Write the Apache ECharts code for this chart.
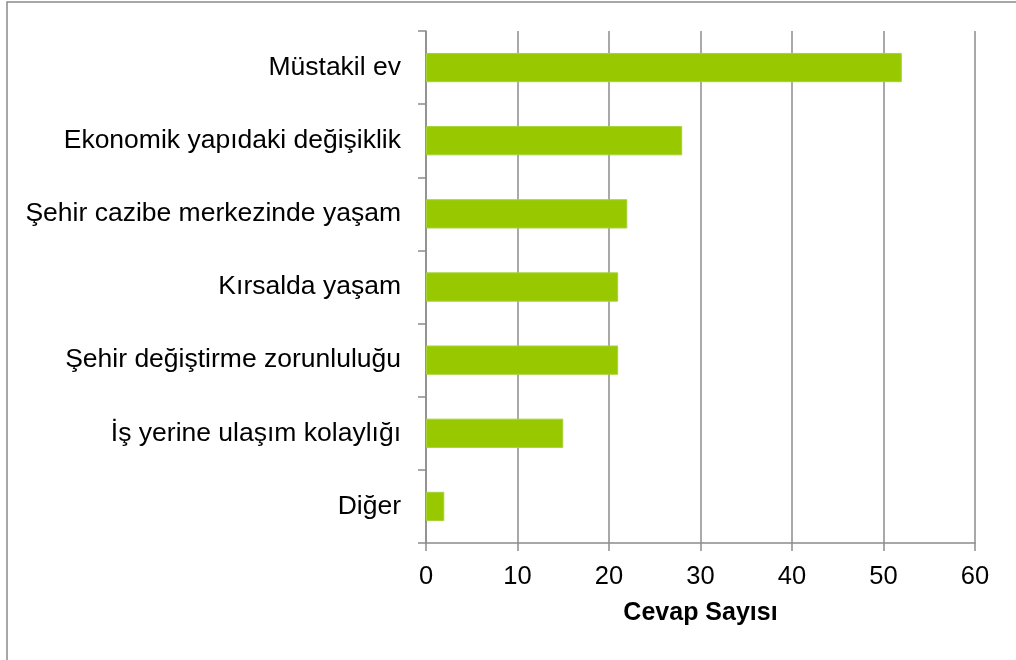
<!DOCTYPE html>
<html>
<head>
<meta charset="utf-8">
<script src="https://cdn.jsdelivr.net/npm/echarts@6/dist/echarts.min.js"></script>
<style>
  html, body { margin: 0; padding: 0; background: #fff; }
  #chart { width: 1016px; height: 660px; }
</style>
</head>
<body>
<div id="chart"></div>
<script>
// kategoriler (yukaridan asagiya)
const categories = [
    'Müstakil ev',
    'Ekonomik yapıdaki değişiklik',
    'Şehir cazibe merkezinde yaşam',
    'Kırsalda yaşam',
    'Şehir değiştirme zorunluluğu',
    'İş yerine ulaşım kolaylığı',
    'Diğer'
];
const answerCounts = [52, 28, 22, 21, 21, 15, 2];
const xTicks = { min: 0, max: 60, interval: 10 };

var dom = document.getElementById('chart');
var myChart = echarts.init(dom, null, { renderer: 'canvas' });

var axisGray = '#8c8c8c';
var option = {
    animation: false,
    textStyle: { fontFamily: 'Liberation Sans, Arial, sans-serif' },
    grid: { left: 426, right: 41, top: 31, bottom: 117, containLabel: false },
    graphic: [
        {
            type: 'rect',
            shape: { x: 7, y: 2, width: 1200, height: 900 },
            style: { fill: 'none', stroke: '#8a8a8a', lineWidth: 1.5 },
            silent: true
        }
    ],
    xAxis: {
        type: 'value',
        min: xTicks.min,
        max: xTicks.max,
        interval: xTicks.interval,
        name: 'Cevap Sayısı',
        nameLocation: 'middle',
        nameGap: 58,
        nameTextStyle: { fontSize: 25, fontWeight: 'bold', color: '#000' },
        axisLine: { show: true, lineStyle: { color: axisGray, width: 1.5 } },
        axisTick: { show: true, length: 8, lineStyle: { color: axisGray, width: 1.5 } },
        axisLabel: { fontSize: 25.5, color: '#000', margin: 21 },
        splitLine: { show: true, lineStyle: { color: axisGray, width: 1.5 } }
    },
    yAxis: {
        type: 'category',
        inverse: true,
        data: categories,
        axisLine: { show: true, lineStyle: { color: axisGray, width: 1.5 } },
        axisTick: { show: true, length: 8, lineStyle: { color: axisGray, width: 1.5 } },
        axisLabel: { fontSize: 26.5, color: '#000', margin: 25 },
        splitLine: { show: false }
    },
    series: [
        {
            type: 'bar',
            data: answerCounts,
            barWidth: '40%',
            itemStyle: { color: '#97c800', borderColor: '#a6d23a', borderWidth: 1 }
        }
    ]
};

myChart.setOption(option);
window.addEventListener('resize', myChart.resize);
</script>
</body>
</html>
